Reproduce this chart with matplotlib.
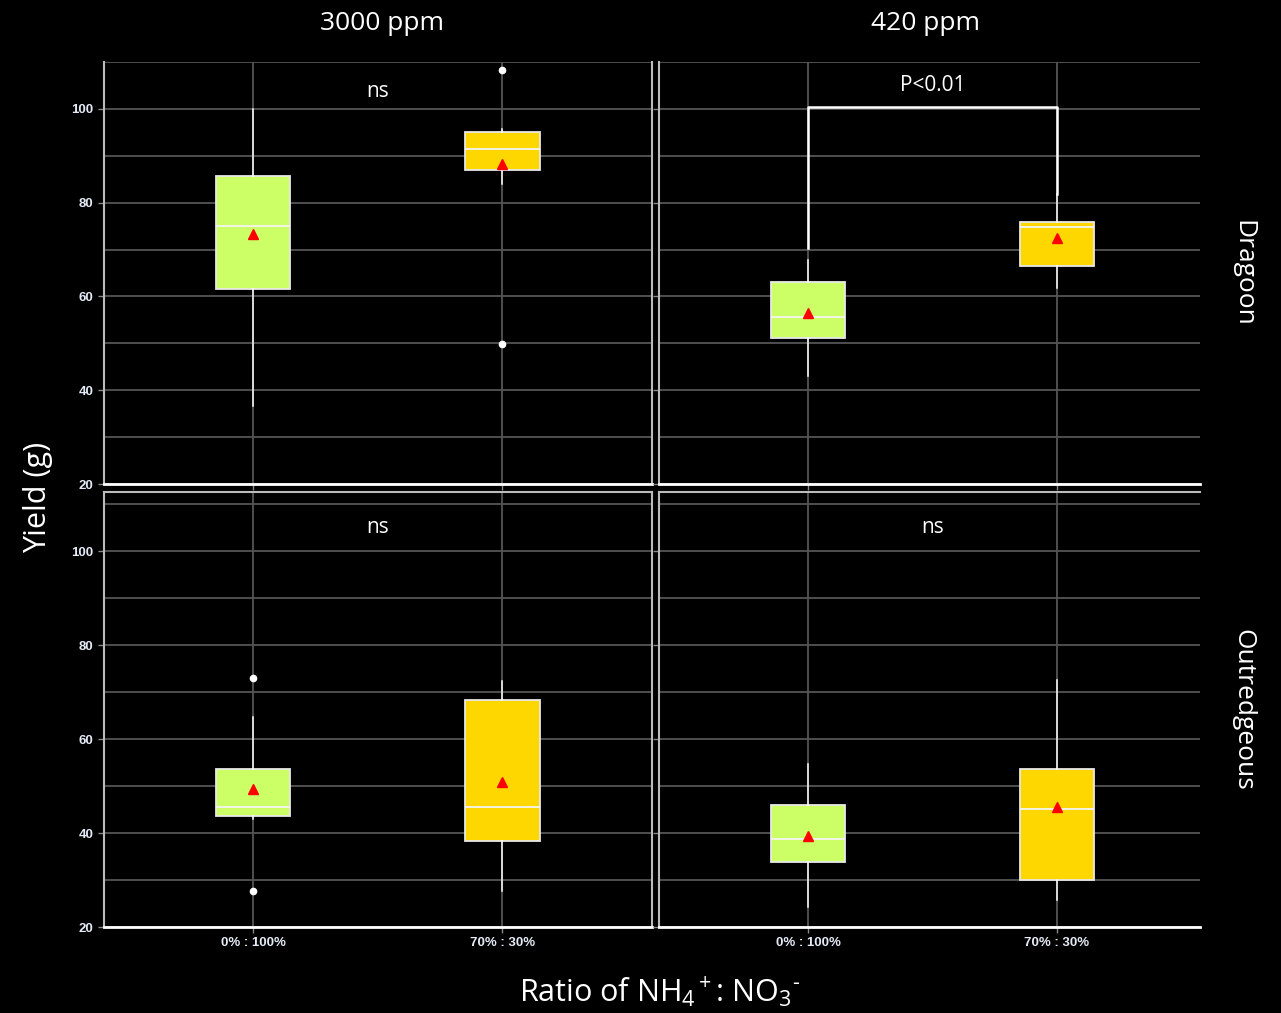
import matplotlib
matplotlib.use("Agg")
import matplotlib.pyplot as plt

plt.rcParams['font.family'] = ['Open Sans', 'DejaVu Sans']
plt.rcParams['mathtext.fontset'] = 'custom'
plt.rcParams['mathtext.rm'] = 'Open Sans'
plt.rcParams['mathtext.it'] = 'Open Sans:italic'
plt.rcParams['mathtext.bf'] = 'Open Sans:bold'

ppm_levels = ["3000 ppm", "420 ppm"]
cultivars = ["Dragoon", "Outredgeous"]
ratios = ["0% : 100%", "70% : 30%"]

# [cultivar][ppm][ratio]
q1_vals = [[[61.6, 86.9], [51.1, 66.5]],
           [[43.7, 38.4], [33.9, 30.0]]]
med_vals = [[[75.1, 91.4], [55.7, 74.8]],
            [[45.5, 45.5], [38.7, 45.2]]]
q3_vals = [[[85.6, 95.0], [63.0, 75.8]],
           [[53.7, 68.4], [45.9, 53.7]]]
low_vals = [[[36.7, 84.0], [43.1, 61.7]],
            [[43.0, 27.6], [24.2, 25.7]]]
high_vals = [[[100.0, 95.7], [67.7, 81.8]],
             [[64.8, 72.3], [54.6, 72.5]]]
mean_vals = [[[73.3, 88.3], [56.4, 72.4]],
             [[49.4, 50.8], [39.3, 45.5]]]
outliers = [[[[], [108.3, 49.9]], [[], []]],
            [[[73.0, 27.7], []], [[], []]]]

sig_labels = [["ns", "P<0.01"], ["ns", "ns"]]
sig_heights = [[103.8, 104.9], [105.1, 105.1]]
# bracket for the 420 ppm Dragoon comparison: top, left leg end, right leg end
bracket = [100.5, 70.4, 81.9]

box_colors = ["#CCFF66", "#FFD700"]
row_ylims = [(20, 109.8), (20, 112.6)]

fig = plt.figure(figsize=(12.81, 10.13), dpi=100, facecolor="black")

col_pos = [(104, 652), (659, 1200)]
row_pos = [(62, 484), (492, 927)]
W, H = 1281, 1013

for r in range(2):
    for c in range(2):
        x0, x1 = col_pos[c]
        y0, y1 = row_pos[r]
        ax = fig.add_axes([x0 / W, 1 - y1 / H, (x1 - x0) / W, (y1 - y0) / H])
        ax.set_facecolor("black")
        ax.set_axisbelow(True)

        stats = []
        for k in range(2):
            stats.append(dict(med=med_vals[r][c][k], q1=q1_vals[r][c][k],
                              q3=q3_vals[r][c][k], whislo=low_vals[r][c][k],
                              whishi=high_vals[r][c][k], mean=mean_vals[r][c][k],
                              fliers=outliers[r][c][k], label=ratios[k]))
        bp = ax.bxp(stats, positions=[0, 1], widths=0.3, patch_artist=True,
                    showmeans=True, showcaps=False,
                    boxprops=dict(edgecolor="#e8e8e8", linewidth=1.3),
                    medianprops=dict(color="#f4f4f4", linewidth=1.3),
                    whiskerprops=dict(color="white", linewidth=1.1),
                    meanprops=dict(marker="^", markerfacecolor="red",
                                   markeredgecolor="red", markersize=7.5),
                    flierprops=dict(marker="o", markerfacecolor="white",
                                    markeredgecolor="white", markersize=4.5))
        for patch, col in zip(bp["boxes"], box_colors):
            patch.set_facecolor(col)

        ax.set_xlim(-0.598, 1.6 if c == 0 else 1.574)
        ax.set_ylim(*row_ylims[r])
        ax.set_yticks([20, 40, 60, 80, 100])
        ax.set_yticks([30, 50, 70, 90, 110], minor=True)
        ax.grid(True, which="both", axis="y", color="#555555", linewidth=1.3)
        ax.grid(True, which="major", axis="x", color="#555555", linewidth=1.3)

        ax.tick_params(axis="both", which="major", length=4, color="#888888",
                       labelcolor="#e4ebf6", labelsize=9.5, width=1)
        ax.tick_params(axis="y", which="minor", length=0)
        for lab in ax.get_xticklabels() + ax.get_yticklabels():
            lab.set_fontfamily("Liberation Sans")
            lab.set_fontweight("bold")
        if c == 1:
            ax.tick_params(axis="y", labelleft=False)
        if r == 0:
            ax.tick_params(axis="x", labelbottom=False)

        ax.spines["left"].set_color("#bbbbbb")
        ax.spines["left"].set_linewidth(1.5)
        ax.spines["bottom"].set_color("white")
        ax.spines["bottom"].set_linewidth(2)
        ax.spines["right"].set_visible(c == 0)
        ax.spines["right"].set_color("#bbbbbb")
        ax.spines["right"].set_linewidth(1.5)
        ax.spines["top"].set_visible(r == 1)
        ax.spines["top"].set_color("#bbbbbb")
        ax.spines["top"].set_linewidth(1.5)

        ax.text(0.5, sig_heights[r][c], sig_labels[r][c], color="white",
                fontsize=15, ha="center", va="center")
        if r == 0 and c == 1:
            ax.plot([0, 0, 1, 1], [bracket[1], bracket[0], bracket[0], bracket[2]],
                    color="white", linewidth=1.8, zorder=4)

        if r == 0:
            ax.text(0.5 + (4 if c == 0 else -4) / (x1 - x0), 1 - (23 - y0) / (y1 - y0),
                    ppm_levels[c], transform=ax.transAxes, color="white",
                    fontsize=19, ha="center", va="center")
        if c == 1:
            ax.text(1.08, 0.5, cultivars[r], transform=ax.transAxes, rotation=-90,
                    color="white", fontsize=19, ha="center", va="center")

fig.text(38 / W, 1 - 497 / H, "Yield (g)", rotation=90, color="white",
         fontsize=22, ha="center", va="center")
fig.text(660 / W, 1 - 992 / H, r"Ratio of NH$_4$$^+$: NO$_3$$^{\text{-}}$", color="white",
         fontsize=22, ha="center", va="center")

fig.savefig("out.png", dpi=100, facecolor="black")
